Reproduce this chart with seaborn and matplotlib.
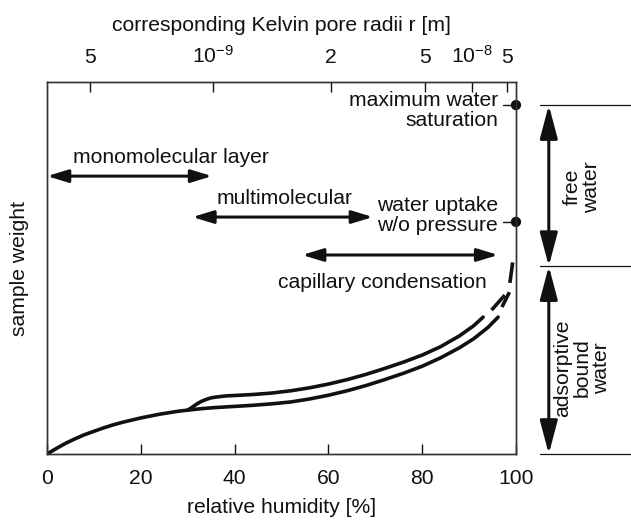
import numpy as np
import seaborn as sns
import matplotlib.pyplot as plt

sns.set_theme(style="ticks")
plt.rcParams['font.family'] = ['Liberation Sans', 'DejaVu Sans']
plt.rcParams['mathtext.fontset'] = 'custom'
plt.rcParams['mathtext.rm'] = 'Liberation Sans'
plt.rcParams['mathtext.it'] = 'Liberation Sans:italic'
FS = 15.2

# adsorption branch (lower curve)
rh_ads = [0, 2, 4, 6, 8, 10, 12, 14, 16, 18, 20, 22, 24, 26, 28, 30, 33, 36, 40, 44,
          48, 52, 56, 60, 64, 68, 72, 76, 80, 84, 88, 91, 94, 96.2]
w_ads = [0, 1.5, 2.9, 4.1, 5.2, 6.1, 7.0, 7.8, 8.5, 9.1, 9.7, 10.2, 10.7, 11.1, 11.5,
         11.8, 12.2, 12.5, 12.8, 13.1, 13.5, 14.0, 14.8, 15.8, 17.0, 18.4, 20.0, 21.7,
         23.6, 25.9, 28.6, 31.0, 34.0, 36.8]
# desorption branch (upper curve)
rh_des = [30, 31, 32, 33, 34, 35, 36, 38, 41, 44, 48, 52, 56, 60, 64, 68, 72, 76, 80,
          84, 88, 91, 93]
w_des = [11.8, 12.6, 13.5, 14.2, 14.7, 15.1, 15.3, 15.6, 15.8, 16.0, 16.4, 17.0, 17.8,
         18.8, 20.0, 21.4, 23.0, 24.7, 26.6, 28.9, 31.8, 34.5, 36.8]
# dashed tails near saturation (one dash each)
rh_des_tail = [94.8, 97.6]
w_des_tail = [38.7, 42.7]
rh_ads_tail = [97.0, 98.6]
w_ads_tail = [39.5, 43.5]
rh_top_tail = [98.7, 99.3]
w_top_tail = [46.0, 51.5]

# marked points on the 100 % line
rh_points = [100, 100]
w_points = [93.8, 62.4]

# zone boundaries on the right scale
w_sat = 93.8
w_bound = 50.5

# Kelvin pore radii (top axis)
kelvin_pos = [9.2, 35.4, 60.6, 80.6, 90.6, 98.1]
kelvin_labels = ['5', r'$\mathregular{10^{-9}}$', '2', '5', r'$\mathregular{10^{-8}}$', '5']

fig = plt.figure(figsize=(6.31, 5.23), dpi=100)
ax = fig.add_axes([0.0745, 0.1319, 0.7432, 0.7113])

ink = '#111111'
lw_curve = 2.6
sns.lineplot(x=rh_ads, y=w_ads, ax=ax, color=ink, lw=lw_curve, estimator=None)
sns.lineplot(x=rh_des, y=w_des, ax=ax, color=ink, lw=lw_curve, estimator=None)
for xs, ys in [(rh_des_tail, w_des_tail), (rh_ads_tail, w_ads_tail), (rh_top_tail, w_top_tail)]:
    ax.plot(xs, ys, color=ink, lw=lw_curve, solid_capstyle='butt')

sns.scatterplot(x=rh_points, y=w_points, ax=ax, color=ink, s=55, zorder=5,
                clip_on=False, edgecolor='none')

ax.set_xlim(0, 100)
ax.set_ylim(0, 100)
ax.set_xticks([0, 20, 40, 60, 80, 100])
ax.set_yticks([])
ax.tick_params(axis='x', direction='in', length=7, width=1, pad=11, labelsize=FS,
               colors=ink)
for s in ax.spines.values():
    s.set_visible(True)
    s.set_linewidth(1)
    s.set_color('#333333')
ax.set_xlabel('relative humidity [%]', fontsize=FS, labelpad=7, color=ink)
ax.set_ylabel('sample weight', fontsize=FS, labelpad=13, color=ink)

ax2 = ax.twiny()
ax2.set_xlim(0, 100)
ax2.set_xticks(kelvin_pos)
ax2.set_xticklabels(kelvin_labels)
ax2.tick_params(axis='x', direction='in', length=7, width=1, pad=11, labelsize=FS,
                colors=ink)
ax2.set_xlabel('corresponding Kelvin pore radii r [m]', fontsize=FS, labelpad=10,
               color=ink)
for s in ax2.spines.values():
    s.set_linewidth(1)
    s.set_color('#333333')


def harrow(x0, x1, y):
    ax.annotate('', xy=(x1, y), xytext=(x0, y),
                arrowprops=dict(arrowstyle='<|-|>,head_length=1.05,head_width=0.32',
                                mutation_scale=12, lw=2.2, color=ink,
                                shrinkA=0, shrinkB=0), annotation_clip=False)


harrow(0, 35.2, 74.7)
ax.text(5.5, 79.8, 'monomolecular layer', fontsize=FS, va='center', ha='left', color=ink)
harrow(31, 69.5, 63.7)
ax.text(36.2, 68.8, 'multimolecular', fontsize=FS, va='center', ha='left', color=ink)
harrow(54.4, 96.2, 53.5)
ax.text(71.6, 46.0, 'capillary condensation', fontsize=FS, va='center', ha='center',
        color=ink)

ax.text(96.2, 92.3, 'maximum water\nsaturation', fontsize=FS, va='center', ha='right',
        multialignment='right', linespacing=1.05, color=ink)
ax.plot([97.2, 100], [w_points[0]] * 2, color=ink, lw=1, clip_on=False)
ax.text(96.2, 64.2, 'water uptake\nw/o pressure', fontsize=FS, va='center', ha='right',
        multialignment='right', linespacing=1.05, color=ink)
ax.plot([97.2, 100], [w_points[1]] * 2, color=ink, lw=1, clip_on=False)

# right-hand zone scale
for yv in [w_sat, w_bound, 0]:
    ax.plot([105.1, 124.5], [yv, yv], color=ink, lw=0.9, clip_on=False)
for y0, y1 in [(w_sat, w_bound), (w_bound, 0)]:
    ax.annotate('', xy=(107.0, y1), xytext=(107.0, y0),
                arrowprops=dict(arrowstyle='<|-|>,head_length=1.7,head_width=0.45',
                                mutation_scale=12, lw=2.2, color=ink,
                                shrinkA=0, shrinkB=0), annotation_clip=False)
ax.text(114.1, 71.8, 'free\nwater', fontsize=FS, rotation=90, va='center', ha='center',
        multialignment='center', linespacing=1.0, color=ink, clip_on=False)
ax.text(114.1, 23.1, 'adsorptive\nbound\nwater', fontsize=FS, rotation=90, va='center',
        ha='center', multialignment='center', linespacing=1.0, color=ink, clip_on=False)

fig.savefig('out.png', dpi=100)
